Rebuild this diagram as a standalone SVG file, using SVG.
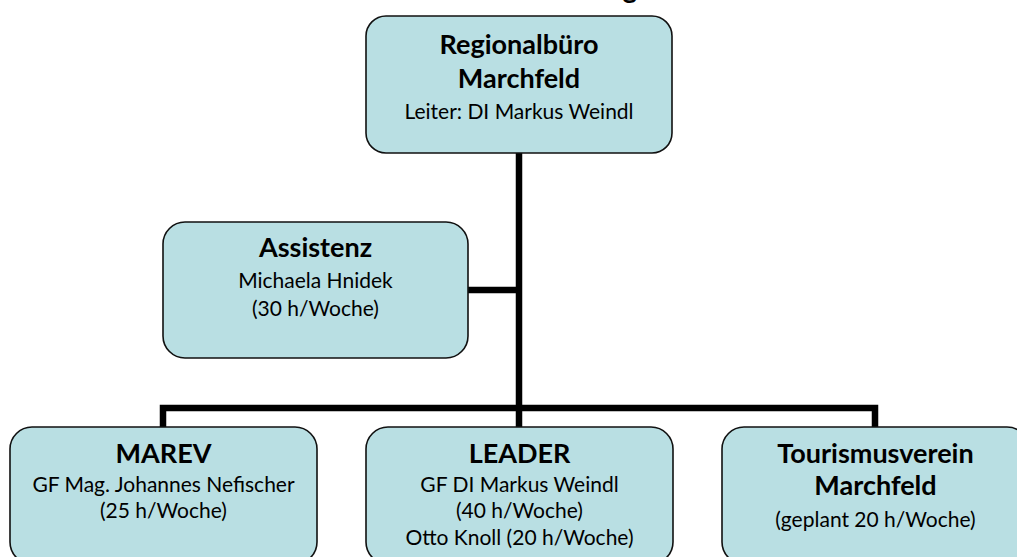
<svg xmlns="http://www.w3.org/2000/svg" width="1017" height="557" viewBox="0 0 1017 557">
  <style>
    .box { fill: #B9DFE3; stroke: #111; stroke-width: 1.6; }
    .conn { fill: none; stroke: #000; stroke-width: 6.5; stroke-linejoin: miter; }
    .t { font-family: Lato, "Open Sans", "Liberation Sans", sans-serif; text-anchor: middle; fill: #000; }
    .b { font-weight: bold; font-size: 27px; }
    .r { font-weight: normal; font-size: 21px; }
    .title { font-family: Lato, "Open Sans", "Liberation Sans", sans-serif; font-weight: bold; font-size: 28px; text-anchor: middle; fill: #000; }
  </style>
  <rect width="1017" height="557" fill="#ffffff"/>
  <text class="title" x="630" y="-2">g</text>

  <g id="connectors">
    <path class="conn" d="M519,153 V427"/>
    <path class="conn" d="M468,290 H519"/>
    <path class="conn" d="M163,427 V408 H875 V427"/>
  </g>

  <g id="regionalbuero">
    <rect class="box" x="366" y="16" width="306" height="137" rx="20" ry="20"/>
    <text class="t b" x="519" y="54">Regionalbüro</text>
    <text class="t b" x="519" y="88">Marchfeld</text>
    <text class="t r" x="519" y="119">Leiter: DI Markus Weindl</text>
  </g>

  <g id="assistenz">
    <rect class="box" x="163" y="222" width="305" height="136" rx="22" ry="22"/>
    <text class="t b" x="315.5" y="257">Assistenz</text>
    <text class="t r" x="315.5" y="288">Michaela Hnidek</text>
    <text class="t r" x="315.5" y="316">(30 h/Woche)</text>
  </g>

  <g id="marev">
    <rect class="box" x="10" y="427" width="307" height="137" rx="22" ry="22"/>
    <text class="t b" x="163.5" y="463">MAREV</text>
    <text class="t r" x="163.5" y="492">GF Mag. Johannes Nefischer</text>
    <text class="t r" x="163.5" y="518">(25 h/Woche)</text>
  </g>

  <g id="leader">
    <rect class="box" x="366" y="427" width="307" height="137" rx="22" ry="22"/>
    <text class="t b" x="519.5" y="463">LEADER</text>
    <text class="t r" x="519.5" y="492">GF DI Markus Weindl</text>
    <text class="t r" x="519.5" y="518">(40 h/Woche)</text>
    <text class="t r" x="519.5" y="545">Otto Knoll (20 h/Woche)</text>
  </g>

  <g id="tourismusverein">
    <rect class="box" x="722" y="427" width="307" height="137" rx="22" ry="22"/>
    <text class="t b" x="875.5" y="463">Tourismusverein</text>
    <text class="t b" x="875.5" y="495">Marchfeld</text>
    <text class="t r" x="875.5" y="527">(geplant 20 h/Woche)</text>
  </g>
</svg>
